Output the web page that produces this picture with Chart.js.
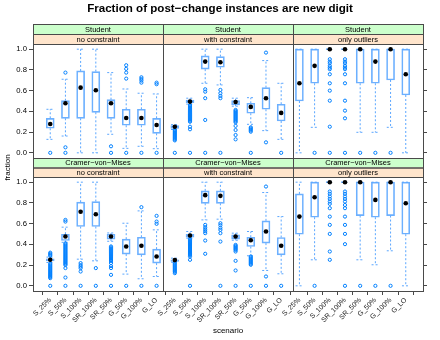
<!DOCTYPE html>
<html><head><meta charset="utf-8">
<script src="https://cdn.jsdelivr.net/npm/chart.js@4/dist/chart.umd.min.js"></script>
<style>html,body{margin:0;padding:0;background:#fff}#wrap{width:440px;height:340px;position:relative}</style>
</head><body><div id="wrap"><canvas id="c" width="440" height="340"></canvas></div>
<script>
// ---------- data ----------
const categories = ['S_25%','S_50%','S_100%','SR_100%','SR_50%','G_50%','G_100%','G_LO'];
const methods = ['Student','Cramer\u2212von\u2212Mises'];
const constraints = ['no constraint','with constraint','only outliers'];
const yTickValues = [0, 0.2, 0.4, 0.6, 0.8, 1.0];
const yTickLabels = ['0.0','0.2','0.4','0.6','0.8','1.0'];

// five-number rows: [lower whisker, Q1, median, Q3, upper whisker]
const studentNone = [
  [0.13,0.237,0.278,0.333,0.42],[0.162,0.333,0.478,0.503,0.71],[0.0,0.333,0.629,0.79,1.0],[0.0,0.391,0.604,0.784,1.0],
  [0.179,0.333,0.478,0.513,0.774],[0.043,0.266,0.336,0.42,0.616],[0.063,0.266,0.336,0.42,0.575],[0.04,0.188,0.269,0.333,0.568]];
const studentNoneOut = [[0],[0.774,0.053,0],[],[],[0.063,0],[0.845,0.81,0.774,0.716,0],[0.729,0.713,0.697,0.677,0],[0.677,0.662,0]];

const studentWith = [
  [0.225,0.235,0.252,0.262,0.272],[0.47,0.484,0.494,0.51,0.527],[0.671,0.807,0.88,0.935,1.0],[0.655,0.826,0.874,0.928,1.0],
  [0.45,0.462,0.491,0.503,0.527],[0.275,0.382,0.443,0.478,0.532],[0.214,0.42,0.527,0.629,0.89],[0.13,0.307,0.385,0.469,0.671]];
const studentWithOut = [
  [0.22,0.21,0.2,0.19,0.18,0.17,0.16,0.15,0.14,0.13,0.12,0],
  [0.46,0.45,0.44,0.43,0.42,0.41,0.4,0.39,0.38,0.37,0.36,0.35,0.34,0.33,0.32,0.31,0.3,0.252,0.227,0],
  [0.613,0.59,0.527,0.317,0],[0.607,0.575,0.549,0.527,0],
  [0.414,0.404,0.394,0.384,0.374,0.364,0.354,0.344,0.334,0.324,0.314,0.304,0.294,0.26,0.22,0.172,0.13],
  [0.246,0.236,0.226,0.216,0.204,0],[0.967,0.101],[0]];

const studentOnly = [
  [0.0,0.5,0.671,1.0,1.0],[0.246,0.671,0.839,1.0,1.0],[1,1,1,1,1],[1,1,1,1,1],
  [0.198,0.671,1.0,1.0,1.0],[0.198,0.671,0.88,1.0,1.0],[0.246,0.703,1.0,1.0,1.0],[0.0,0.558,0.758,1.0,1.0]];
const studentOnlyOut = [[],[0],
  [0.903,0.88,0.865,0.839,0.822,0.807,0.758,0.671,0.6,0.503,0.252,0],
  [0.903,0.88,0.865,0.839,0.822,0.807,0.758,0.671,0.503,0.407,0.333,0],
  [0],[0],[0],[]];

const cvmNone = [
  [0.225,0.241,0.251,0.26,0.277],[0.42,0.437,0.476,0.498,0.566],[0.257,0.572,0.714,0.807,1.0],[0.241,0.572,0.691,0.813,1.0],
  [0.43,0.45,0.476,0.498,0.51],[0.113,0.306,0.379,0.45,0.604],[0.068,0.299,0.386,0.469,0.723],[0.09,0.219,0.283,0.354,0.54]];
const cvmNoneOut = [
  [0.32,0.31,0.3,0.29,0.215,0.205,0.195,0.185,0.175,0.165,0.155,0.145,0.135,0.125,0.115,0.105,0.095,0.085,0.074,0],
  [0.636,0.62,0.41,0.4,0.39,0.38,0.37,0.36,0.35,0.34,0.33,0.32,0.31,0.3,0.29,0.28,0.27,0.26,0.25,0.24,0.23,0.22,0.21,0.2,0.171,0.08,0],
  [0.219,0.2,0.185,0.17,0.138,0],[0.171,0],
  [0.38,0.37,0.36,0.35,0.34,0.33,0.32,0.31,0.3,0.29,0.28,0.27,0.26,0.25,0.24,0.22,0.19,0.171,0.106,0],
  [0],[0.759,0],[0.675,0.62,0.598,0]];

const cvmWith = [
  [0.228,0.236,0.248,0.251,0.267],[0.46,0.469,0.485,0.498,0.524],[0.636,0.796,0.875,0.916,1.0],[0.643,0.796,0.868,0.916,1.0],
  [0.44,0.45,0.476,0.492,0.508],[0.29,0.379,0.44,0.469,0.524],[0.148,0.412,0.524,0.627,0.9],[0.116,0.299,0.386,0.466,0.668]];
const cvmWithOut = [
  [0.225,0.215,0.205,0.195,0.185,0.175,0.165,0.155,0.145,0.135,0.122],
  [0.455,0.445,0.435,0.425,0.415,0.405,0.395,0.385,0.375,0.365,0.355,0.345,0.335,0.325,0.315,0.305,0.295,0.283,0.251,0],
  [0.588,0.565,0.546,0.527,0.508,0.437,0.309],[0.604,0.585,0.56,0.54,0.508,0.427,0],
  [0.395,0.385,0.375,0.365,0.355,0.345,0.331,0.241,0.148,0],
  [0.283,0.273,0.263,0.253,0.243,0.233,0.223,0.213,0.203,0],[0.958,0.09,0],[0]];

const cvmOnly = [
  [0.0,0.498,0.668,0.887,1.0],[0.251,0.662,0.855,1.0,1.0],[1,1,1,1,1],[1,1,1,1,1],
  [0.251,0.678,1.0,1.0,1.0],[0.203,0.662,0.829,1.0,1.0],[0.338,0.678,1.0,1.0,1.0],[0.0,0.498,0.797,1.0,1.0]];
const cvmOnlyOut = [[],[0],
  [0.91,0.888,0.862,0.839,0.813,0.791,0.749,0.668,0.588,0.501,0.331,0.251],
  [0.91,0.888,0.862,0.839,0.813,0.78,0.749,0.668,0.588,0.501,0.402,0],
  [0],[0],[0],[]];

// ---------- layout constants ----------
const PANEL_W = 8.2, CAT0 = 0.6, CAP = 0.25;
const Y_MIN = -0.05, PANEL_H = 1.1, GAP = 19 / (114 / PANEL_H);
const ROW_OFF = PANEL_H + GAP, Y_MAX = Y_MIN + ROW_OFF + PANEL_H;
const BLUE = '#0080ff';
const BOX_BLUE = '#6cb0ff';
const WHISK_BLUE = '#5aa6ff';
const FONT = "'Liberation Sans', Arial, Helvetica, sans-serif";

const panels = [
  {row:1,col:0,stats:studentNone,out:studentNoneOut},
  {row:1,col:1,stats:studentWith,out:studentWithOut},
  {row:1,col:2,stats:studentOnly,out:studentOnlyOut},
  {row:0,col:0,stats:cvmNone,out:cvmNoneOut},
  {row:0,col:1,stats:cvmWith,out:cvmWithOut},
  {row:0,col:2,stats:cvmOnly,out:cvmOnlyOut}];

const boxData = [], medData = [], outData = [], whiskData = [];
panels.forEach(p => {
  const yo = p.row ? ROW_OFF : 0;
  p.stats.forEach((s, i) => {
    const x = p.col * PANEL_W + CAT0 + i;
    boxData.push({x, y:[s[1] + yo, s[3] + yo]});
    medData.push({x, y:s[2] + yo});
    whiskData.push(
      {x, y:s[3] + yo}, {x, y:s[4] + yo}, {x, y:null},
      {x:x - CAP, y:s[4] + yo}, {x:x + CAP, y:s[4] + yo}, {x, y:null},
      {x, y:s[1] + yo}, {x, y:s[0] + yo}, {x, y:null},
      {x:x - CAP, y:s[0] + yo}, {x:x + CAP, y:s[0] + yo}, {x, y:null});
    p.out[i].forEach(v => outData.push({x, y:v + yo}));
  });
});

const xTickPos = [], xTickText = [];
for (let c = 0; c < 3; c++) categories.forEach((lab, i) => { xTickPos.push(c * PANEL_W + CAT0 + i); xTickText.push(lab); });
const yTickPos = [], yTickText = [];
[0, ROW_OFF].forEach(off => yTickValues.forEach((v, i) => { yTickPos.push(v + off); yTickText.push(yTickLabels[i]); }));

const stripPlugin = {
  id: 'strips',
  afterDraw(chart) {
    const ctx = chart.ctx, a = chart.chartArea;
    const pw = (a.right - a.left) / 3;
    const ys = chart.scales.y;
    ctx.save();
    ctx.fillStyle = '#000';
    ctx.font = 'bold 11.6px ' + FONT;
    ctx.textAlign = 'center'; ctx.textBaseline = 'alphabetic';
    ctx.fillText('Fraction of post\u2212change instances are new digit', 220, 11.5);
    ctx.strokeStyle = '#4a4a4a'; ctx.lineWidth = 1;
    panels.forEach(p => {
      const yo = p.row ? ROW_OFF : 0;
      const top = Math.round(ys.getPixelForValue(Y_MIN + PANEL_H + yo));
      const bot = Math.round(ys.getPixelForValue(Y_MIN + yo));
      const x0 = Math.round(a.left + p.col * pw), x1 = Math.round(a.left + (p.col + 1) * pw);
      const sh = p.row ? 10 : 9.5;
      const sTop = top - 2 * sh;
      ctx.fillStyle = '#ccffcc'; ctx.fillRect(x0, sTop, x1 - x0, sh);
      ctx.fillStyle = '#ffe5cc'; ctx.fillRect(x0, sTop + sh, x1 - x0, sh);
      ctx.strokeRect(x0 + 0.5, sTop + 0.5, x1 - x0, sh);
      ctx.strokeRect(x0 + 0.5, sTop + sh + 0.5, x1 - x0, sh);
      ctx.fillStyle = '#000';
      ctx.font = '7.5px ' + FONT; ctx.textBaseline = 'middle';
      ctx.fillText(methods[p.row ? 0 : 1], (x0 + x1) / 2, sTop + sh / 2 + 0.5);
      ctx.fillText(constraints[p.col], (x0 + x1) / 2, sTop + sh * 1.5 + 0.5);
      ctx.strokeRect(x0 + 0.5, top + 0.5, x1 - x0, bot - top);
    });
    ctx.restore();
  }
};

Chart.defaults.font.family = FONT;
new Chart(document.getElementById('c'), {
  type: 'bar',
  data: { datasets: [
    {type:'scatter', data: medData, pointRadius: 2.3, pointBackgroundColor:'#000', pointBorderWidth:0, order:1},
    {type:'scatter', data: outData, pointRadius: 1.6, pointBackgroundColor:'rgba(0,0,0,0)', pointBorderColor: BLUE, pointBorderWidth:1, order:2},
    {type:'line', data: whiskData, borderColor: WHISK_BLUE, borderWidth:1, borderDash:[2,2], pointRadius:0, spanGaps:false, fill:false, tension:0, order:3},
    {type:'bar', data: boxData, backgroundColor:'rgba(0,0,0,0)', borderColor: BOX_BLUE, borderWidth:1, borderSkipped:false, barThickness:8, order:4}
  ]},
  options: {
    responsive:false, animation:false, devicePixelRatio:1, events:[],
    layout: {padding:{top:44, left:0, right:0, bottom:0}},
    plugins: {legend:{display:false}, title:{display:false}, tooltip:{enabled:false}},
    scales: {
      x: {type:'linear', position:'bottom', min:0, max:3 * PANEL_W,
        afterBuildTicks: s => { s.ticks = xTickPos.map(v => ({value:v})); },
        afterFit: s => { s.height = 49; },
        ticks: {autoSkip:false, minRotation:45, maxRotation:45, padding:1, color:'#222', font:{size:7},
          callback: (v, i) => xTickText[i]},
        grid: {drawOnChartArea:false, drawTicks:true, tickLength:4, color:'#4a4a4a'},
        border: {display:false},
        title: {display:true, text:'scenario', color:'#000', font:{size:8}, padding:{top:0, bottom:4.5}}},
      y: {type:'linear', position:'left', min:Y_MIN, max:Y_MAX,
        afterBuildTicks: s => { s.ticks = yTickPos.map(v => ({value:v})); },
        afterFit: s => { s.width = 33; },
        ticks: {autoSkip:false, padding:2, color:'#000', font:{size:7.7}, callback: (v, i) => yTickText[i]},
        grid: {drawOnChartArea:false, drawTicks:true, tickLength:4, color:'#4a4a4a'},
        border: {display:false},
        title: {display:true, text:'fraction', color:'#000', font:{size:8}, padding:{top:2.5, bottom:0}}},
      yr: {type:'linear', position:'right', min:Y_MIN, max:Y_MAX,
        afterBuildTicks: s => { s.ticks = yTickPos.map(v => ({value:v})); },
        afterFit: s => { s.width = 17; },
        ticks: {display:false},
        grid: {drawOnChartArea:false, drawTicks:true, tickLength:4, color:'#4a4a4a'},
        border: {display:false}}
    }
  },
  plugins: [stripPlugin]
});
</script></body></html>
